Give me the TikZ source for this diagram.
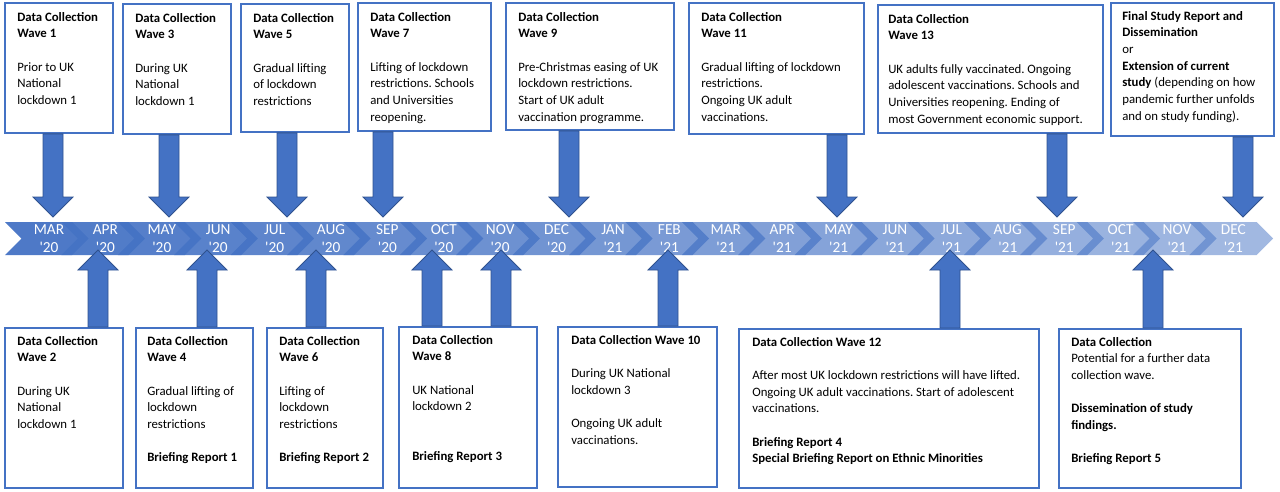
\documentclass[tikz,border=0pt]{standalone}
\usepackage{fontspec}
\setmainfont{Carlito}
\frenchspacing
\usetikzlibrary{calc}
\definecolor{boxblue}{HTML}{4472C4}
\definecolor{arrowblue}{HTML}{4472C4}
\definecolor{arrowdark}{HTML}{2F528F}
\definecolor{bandblue}{HTML}{4472C4}
\tikzset{
  wavebox/.style 2 args={draw=boxblue, line width=1.4pt, fill=white, anchor=north west,
    inner sep=0pt, minimum width=#1*0.75pt, minimum height=#2*0.75pt},
  wavetext/.style={anchor=north west, inner sep=0pt, align=left,
    font=\fontsize{9.6}{12.5}\selectfont},
  month/.style={text=white, align=center, inner sep=0pt,
    font=\fontsize{11.5}{13.5}\selectfont},
  blk/.style={draw=arrowdark, fill=arrowblue, line width=0.6pt,
    to path={let \p1=(\tikztostart), \p2=(\tikztotarget),
      \n1={ifthenelse(\y1>\y2,1,-1)} in
      (\x1-7.5pt,\y1) -- (\x1-7.5pt,\y2+\n1*15pt) -- (\x1-15pt,\y2+\n1*15pt)
      -- (\x2,\y2) -- (\x1+15pt,\y2+\n1*15pt) -- (\x1+7.5pt,\y2+\n1*15pt)
      -- (\x1+7.5pt,\y1) -- cycle}}
}
\begin{document}
\begin{tikzpicture}[x=0.75pt, y=-0.75pt]
  \useasboundingbox (0,0) rectangle (1280,492);

  % boxes above the timeline
  \node[wavebox={108}{130}] (w1) at (4,2) {};
  \node[wavebox={108}{130}] (w3) at (122,3) {};
  \node[wavebox={108}{128}] (w5) at (240,3) {};
  \node[wavebox={133}{128}] (w7) at (357,2) {};
  \node[wavebox={168}{127}] (w9) at (505,2) {};
  \node[wavebox={175}{131}] (w11) at (688,2) {};
  \node[wavebox={225}{128}] (w13) at (877,4) {};
  \node[wavebox={163}{133}] (wf) at (1110,2) {};

  % boxes below the timeline
  \node[wavebox={118}{160}] (w2) at (4,327) {};
  \node[wavebox={117}{160}] (w4) at (135,327) {};
  \node[wavebox={116}{160}] (w6) at (266,327) {};
  \node[wavebox={138}{161}] (w8) at (398,326) {};
  \node[wavebox={159}{160}] (w10) at (557,326) {};
  \node[wavebox={300}{159}] (w12) at (738,328) {};
  \node[wavebox={182}{159}] (wb) at (1058,328) {};

  \node[wavetext] (w1t) at ($(w1.north west)+(13,10)$)
    {\textbf{Data Collection}\\\textbf{Wave 1}\\[12.5pt]Prior to UK\\National\\lockdown 1};
  \node[wavetext] (w3t) at ($(w3.north west)+(13,10)$)
    {\textbf{Data Collection}\\\textbf{Wave 3}\\[12.5pt]During UK\\National\\lockdown 1};
  \node[wavetext] (w5t) at ($(w5.north west)+(13,10)$)
    {\textbf{Data Collection}\\\textbf{Wave 5}\\[12.5pt]Gradual lifting\\of lockdown\\restrictions};
  \node[wavetext] (w7t) at ($(w7.north west)+(13,10)$)
    {\textbf{Data Collection}\\\textbf{Wave 7}\\[12.5pt]Lifting of lockdown\\restrictions. Schools\\and Universities\\reopening.};
  \node[wavetext] (w9t) at ($(w9.north west)+(13,10)$)
    {\textbf{Data Collection}\\\textbf{Wave 9}\\[12.5pt]Pre-Christmas easing of UK\\lockdown restrictions.\\Start of UK adult\\vaccination programme.};
  \node[wavetext] (w11t) at ($(w11.north west)+(13,10)$)
    {\textbf{Data Collection}\\\textbf{Wave 11}\\[12.5pt]Gradual lifting of lockdown\\restrictions.\\Ongoing UK adult\\vaccinations.};
  \node[wavetext] (w13t) at ($(w13.north west)+(11,10)$)
    {\textbf{Data Collection}\\\textbf{Wave 13}\\[12.5pt]UK adults fully vaccinated. Ongoing\\adolescent vaccinations. Schools and\\Universities reopening. Ending of\\most Government economic support.};
  \node[wavetext] (wft) at ($(wf.north west)+(12,9)$)
    {\textbf{Final Study Report and}\\\textbf{Dissemination}\\or\\\textbf{Extension of current}\\\textbf{study} (depending on how\\pandemic further unfolds\\and on study funding).};

  \node[wavetext] (w2t) at ($(w2.north west)+(13,9)$)
    {\textbf{Data Collection}\\\textbf{Wave 2}\\[12.5pt]During UK\\National\\lockdown 1};
  \node[wavetext] (w4t) at ($(w4.north west)+(12,9)$)
    {\textbf{Data Collection}\\\textbf{Wave 4}\\[12.5pt]Gradual lifting of\\lockdown\\restrictions\\[12.5pt]\textbf{Briefing Report 1}};
  \node[wavetext] (w6t) at ($(w6.north west)+(13,9)$)
    {\textbf{Data Collection}\\\textbf{Wave 6}\\[12.5pt]Lifting of\\lockdown\\restrictions\\[12.5pt]\textbf{Briefing Report 2}};
  \node[wavetext] (w8t) at ($(w8.north west)+(14,9)$)
    {\textbf{Data Collection}\\\textbf{Wave 8}\\[12.5pt]UK National\\lockdown 2\\[25pt]\textbf{Briefing Report 3}};
  \node[wavetext] (w10t) at ($(w10.north west)+(14,9)$)
    {\textbf{Data Collection Wave 10}\\[12.5pt]During UK National\\lockdown 3\\[12.5pt]Ongoing UK adult\\vaccinations.};
  \node[wavetext] (w12t) at ($(w12.north west)+(14,9)$)
    {\textbf{Data Collection Wave 12}\\[12.5pt]After most UK lockdown restrictions will have lifted.\\Ongoing UK adult vaccinations. Start of adolescent\\vaccinations.\\[12.5pt]\textbf{Briefing Report 4}\\\textbf{Special Briefing Report on Ethnic Minorities}};
  \node[wavetext] (wbt) at ($(wb.north west)+(13,9)$)
    {\textbf{Data Collection}\\Potential for a further data\\collection wave.\\[12.5pt]\textbf{Dissemination of study}\\\textbf{findings.}\\[12.5pt]\textbf{Briefing Report 5}};

  % timeline of overlapping chevrons
  \foreach \m/\yr [count=\i from 0] in {MAR/20,APR/20,MAY/20,JUN/20,JUL/20,AUG/20,SEP/20,OCT/20,NOV/20,DEC/20,
      JAN/21,FEB/21,MAR/21,APR/21,MAY/21,JUN/21,JUL/21,AUG/21,SEP/21,OCT/21,NOV/21,DEC/21}{
    \pgfmathsetmacro\L{5+56.4*\i}
    \pgfmathsetmacro\op{0.95-0.45*\i/21}
    \fill[bandblue, fill opacity=\op] (\L,222) -- ++(67.1,0) -- ++(16.5,16.5)
      -- ++(-16.5,16.5) -- ++(-67.1,0) -- ++(16.5,-16.5) -- cycle;
    \node[month] (m\i) at (\L+44,238.5) {\m\\\textquotesingle\yr};
  }

  % arrow tips on the timeline
  \coordinate (t1) at (53,217);
  \coordinate (t3) at (169,217);
  \coordinate (t5) at (287,217);
  \coordinate (t7) at (383,217);
  \coordinate (t9) at (569,217);
  \coordinate (t11) at (837,217);
  \coordinate (t13) at (1057,217);
  \coordinate (tf) at (1243,217);
  \coordinate (t2) at (98,250);
  \coordinate (t4) at (207,250);
  \coordinate (t6) at (316,250);
  \coordinate (t8a) at (432,250);
  \coordinate (t8b) at (501,250);
  \coordinate (t10) at (668,250);
  \coordinate (t12) at (950,250);
  \coordinate (tb) at (1153,250);

  \path
    (t1 |- w1.south) edge[blk] (t1)
    (t3 |- w3.south) edge[blk] (t3)
    (t5 |- w5.south) edge[blk] (t5)
    (t7 |- w7.south) edge[blk] (t7)
    (t9 |- w9.south) edge[blk] (t9)
    (t11 |- w11.south) edge[blk] (t11)
    (t13 |- w13.south) edge[blk] (t13)
    (tf |- wf.south) edge[blk] (tf)
    (t2 |- w2.north) edge[blk] (t2)
    (t4 |- w4.north) edge[blk] (t4)
    (t6 |- w6.north) edge[blk] (t6)
    (t8a |- w8.north) edge[blk] (t8a)
    (t8b |- w8.north) edge[blk] (t8b)
    (t10 |- w10.north) edge[blk] (t10)
    (t12 |- w12.north) edge[blk] (t12)
    (tb |- wb.north) edge[blk] (tb)
  ;
\end{tikzpicture}
\end{document}
